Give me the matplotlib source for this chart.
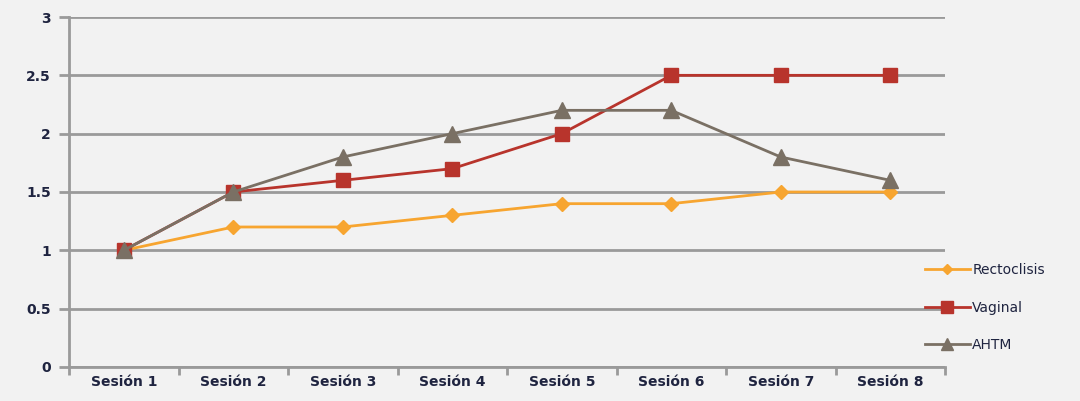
import matplotlib
matplotlib.use("Agg")
import matplotlib.pyplot as plt
import numpy as np

categories = ["Sesión 1", "Sesión 2", "Sesión 3", "Sesión 4", "Sesión 5", "Sesión 6", "Sesión 7", "Sesión 8"]
rectoclisis = [1, 1.2, 1.2, 1.3, 1.4, 1.4, 1.5, 1.5]
vaginal = [1, 1.5, 1.6, 1.7, 2, 2.5, 2.5, 2.5]
ahtm = [1, 1.5, 1.8, 2, 2.2, 2.2, 1.8, 1.6]
yticks = [0, 0.5, 1, 1.5, 2, 2.5, 3]
ytick_labels = ["0", "0.5", "1", "1.5", "2", "2.5", "3"]

bg = "#f2f2f2"
grid_c = "#9a9a9a"
txt_c = "#1f2440"

fig = plt.figure(figsize=(10.8, 4.01), dpi=100, facecolor=bg)
ax = fig.add_axes([0.0639, 0.0848, 0.875 - 0.0639, 0.9576 - 0.0848], facecolor=bg)

x = np.arange(len(categories))
ax.plot(x, rectoclisis, color="#f7a530", lw=2, marker="D", ms=7, label="Rectoclisis", zorder=3)
ax.plot(x, vaginal, color="#b8342c", lw=2, marker="s", ms=10, label="Vaginal", zorder=4)
ax.plot(x, ahtm, color="#7a7064", lw=2, marker="^", ms=11, label="AHTM", zorder=5)

ax.set_xlim(-0.5, len(categories) - 0.5)
ax.set_ylim(0, 3)
ax.set_yticks(yticks)
ax.set_yticklabels(ytick_labels)
ax.set_xticks(x)
ax.set_xticklabels(categories)
ax.set_xticks(np.arange(-0.5, len(categories), 1), minor=True)
ax.tick_params(axis="x", which="major", length=0, pad=6)
ax.tick_params(axis="x", which="minor", length=6, width=2, color=grid_c, direction="out")
ax.tick_params(axis="y", length=7, width=2, color=grid_c, pad=6)
for lab in ax.get_xticklabels() + ax.get_yticklabels():
    lab.set_fontsize(10)
    lab.set_fontweight("bold")
    lab.set_color(txt_c)

ax.yaxis.grid(True, color=grid_c, lw=2.0)
ax.set_axisbelow(True)
for s in ["top", "right"]:
    ax.spines[s].set_visible(False)
for s in ["left", "bottom"]:
    ax.spines[s].set_color(grid_c)
    ax.spines[s].set_linewidth(2.0)

leg = fig.legend(loc="center left", bbox_to_anchor=(0.845, 0.233), frameon=False,
                 fontsize=10, handlelength=3.2, labelspacing=1.7, handletextpad=0.2,
                 markerscale=0.8)
for t in leg.get_texts():
    t.set_color(txt_c)

fig.savefig("out.png", dpi=100, facecolor=bg)
